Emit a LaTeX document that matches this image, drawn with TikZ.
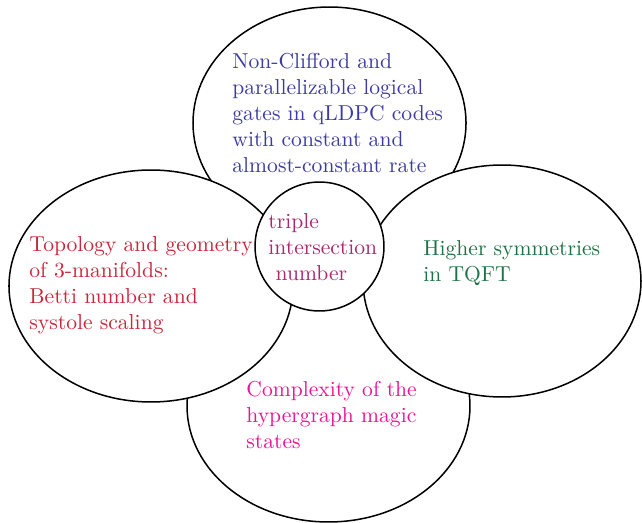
\documentclass[tikz,border=0pt]{standalone}
\usepackage{tikz}
\usetikzlibrary{shapes,positioning}

\definecolor{gatecol}{RGB}{60,60,160}
\definecolor{topocol}{RGB}{200,40,60}
\definecolor{tqftcol}{RGB}{30,115,70}
\definecolor{magiccol}{RGB}{235,20,150}
\definecolor{triplecol}{RGB}{170,40,110}

\tikzset{
  blob/.style={draw,shape=ellipse,fill=white,line width=0.7pt,inner sep=0pt,minimum height=107.4pt},
  label/.style={anchor=base west,align=left,inner sep=0pt}
}

\begin{document}
\begin{tikzpicture}[x=0.463pt,y=-0.463pt]
  \useasboundingbox (0,0) rectangle (642,522);
  % the four areas, back to front
  \path (329.5,123) node[blob,minimum width=126.4pt] (gates) {};
  \path (328.5,406) node[blob,minimum width=131.0pt] (magic) {};
  \path (151,286) node[blob,minimum width=131.5pt] (topo) {};
  \path (502,281) node[blob,minimum width=128.7pt] (tqft) {};
  % the overlap in the middle
  \path (319.5,246.5) node[blob,shape=circle,minimum size=59.7pt] (triple) {};
  % the texts (placed at the baseline of their last line)
  \path (232,172.2) node[label,text=gatecol] (gatestext) {Non-Clifford and\\parallelizable logical\\gates in qLDPC codes\\with constant and\\almost-constant rate};
  \path (29,329.1) node[label,text=topocol] (topotext) {Topology and geometry\\of 3-manifolds:\\Betti number and\\systole scaling};
  \path (423,281.8) node[label,text=tqftcol] (tqfttext) {Higher symmetries\\in TQFT};
  \path (246,448.3) node[label,text=magiccol] (magictext) {Complexity of the\\hypergraph magic\\states};
  \path (268,280.7) node[label,text=triplecol] (tripletext) {triple\\intersection\\\ number};
\end{tikzpicture}
\end{document}
